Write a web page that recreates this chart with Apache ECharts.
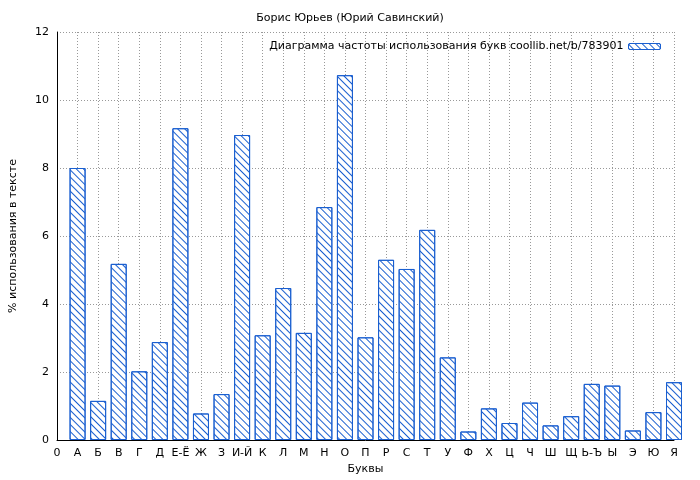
<!DOCTYPE html>
<html><head><meta charset="utf-8">
<script src="https://cdn.jsdelivr.net/npm/echarts@6/dist/echarts.min.js"></script>
<style>html,body{margin:0;padding:0;background:#fff}#c{width:700px;height:480px}</style>
</head><body><div id="c"></div>
<script>
const tickLabels = ['0','А','Б','В','Г','Д','Е-Ё','Ж','З','И-Й','К','Л','М','Н','О','П','Р','С','Т','У','Ф','Х','Ц','Ч','Ш','Щ','Ь-Ъ','Ы','Э','Ю','Я'];
const values = [8.0,1.15,5.18,2.02,2.88,9.17,0.78,1.35,8.97,3.08,4.47,3.15,6.85,10.73,3.02,5.3,5.03,6.18,2.43,0.25,0.93,0.5,1.1,0.43,0.7,1.65,1.6,0.28,0.82,1.7];
const seriesName = 'Диаграмма частоты использования букв coollib.net/b/783901';
const chart = echarts.init(document.getElementById('c'));
const decal = {symbol:'rect', symbolSize:1, dashArrayX:[1,0], dashArrayY:[1,4], rotation:Math.PI/4, color:'#1a5fd0'};
const font = 'DejaVu Sans';
chart.setOption({
  animation:false,
  textStyle:{fontFamily:font},
  title:{text:'Борис Юрьев (Юрий Савинский)', left:'center', top:8, textStyle:{fontSize:11, fontWeight:'normal', color:'#000', fontFamily:font}},
  legend:{right:34, top:36, align:'right', itemWidth:32, itemHeight:6, textStyle:{fontSize:11,color:'#000',fontFamily:font}, itemStyle:{color:'#fff',borderColor:'#1a5fd0',borderWidth:1,decal:decal}},
  grid:{left:50, right:26, top:32, bottom:40},
  xAxis:{type:'value', min:0, max:30, interval:1, name:'Буквы', nameLocation:'middle', nameGap:24, nameTextStyle:{fontSize:11,color:'#000'},
    axisLine:{lineStyle:{color:'#000'}}, axisTick:{show:false},
    axisLabel:{fontSize:11,color:'#000', formatter:v=>tickLabels[Math.round(v)]},
    splitLine:{show:true,lineStyle:{color:'#999',type:[1,2]}}},
  yAxis:{type:'value', min:0, max:12, interval:2, name:'% использования в тексте', nameLocation:'middle', nameGap:38, nameTextStyle:{fontSize:11,color:'#000'},
    axisLine:{show:true,lineStyle:{color:'#000'}}, axisTick:{show:false},
    axisLabel:{fontSize:11,color:'#000'},
    splitLine:{show:true,lineStyle:{color:'#999',type:[1,2]}}},
  series:[{name:seriesName, type:'bar', barWidth:16, clip:true, data:values.map((v,i)=>[i+1,v]),
    itemStyle:{color:'#fff', borderColor:'#1a5fd0', borderWidth:1, decal:decal}}]
});
</script></body></html>
